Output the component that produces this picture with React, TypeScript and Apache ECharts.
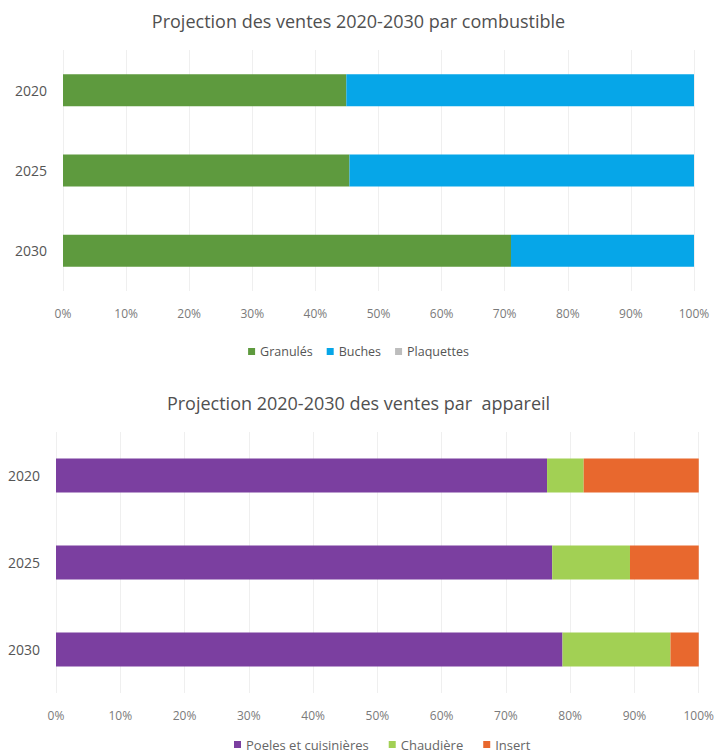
import React, { useEffect, useRef } from "react";
import * as echarts from "echarts";

const years = ["2020", "2025", "2030"];
const xTicks = ["0%", "10%", "20%", "30%", "40%", "50%", "60%", "70%", "80%", "90%", "100%"];

const fuelTitle = "Projection des ventes 2020-2030 par combustible";
const granules = [44.9, 45.4, 71.0];
const buches = [55.1, 54.6, 29.0];
const plaquettes = [0, 0, 0];

const deviceTitle = "Projection 2020-2030 des ventes par  appareil";
const poeles = [76.4, 77.2, 78.8];
const chaudiere = [5.7, 12.1, 16.8];
const insert = [17.9, 10.7, 4.4];

const FONT = "Open Sans";

export default function App() {
  const ref = useRef<HTMLDivElement>(null);
  useEffect(() => {
    document.body.style.margin = "0";
    const chart = echarts.init(ref.current!, null, { renderer: "svg" });
    const valueAxis = (gridIndex: number) => ({
      type: "value",
      gridIndex,
      min: 0,
      max: 100,
      interval: 10,
      axisLine: { show: false },
      axisTick: { show: false },
      splitLine: { show: true, lineStyle: { color: "#efefef", width: 1 } },
      axisLabel: {
        margin: 16,
        color: "#7a7a7a",
        fontFamily: FONT,
        fontSize: 12,
        formatter: (v: number) => xTicks[Math.round(v / 10)],
      },
    });
    const catAxis = (gridIndex: number) => ({
      type: "category",
      gridIndex,
      data: years,
      inverse: true,
      axisLine: { show: false },
      axisTick: { show: false },
      axisLabel: { margin: 16, color: "#555", fontFamily: FONT, fontSize: 14 },
    });
    chart.setOption({
      animation: false,
      backgroundColor: "#fff",
      title: [
        {
          text: fuelTitle,
          left: "center",
          top: 7,
          textStyle: { fontFamily: FONT, fontSize: 18, fontWeight: "normal", color: "#505050" },
        },
        {
          text: deviceTitle,
          left: "center",
          top: 389,
          textStyle: { fontFamily: FONT, fontSize: 18, fontWeight: "normal", color: "#505050" },
        },
      ],
      legend: [
        {
          data: ["Granulés", "Buches", "Plaquettes"],
          top: 340,
          left: "center",
          itemWidth: 7,
          itemHeight: 7,
          itemGap: 14,
          icon: "rect",
          textStyle: { fontFamily: FONT, fontSize: 12.5, color: "#555" },
        },
        {
          data: ["Poeles et cuisinières", "Chaudière", "Insert"],
          top: 733,
          left: 229,
          itemWidth: 7,
          itemHeight: 7,
          itemGap: 20,
          icon: "rect",
          textStyle: { fontFamily: FONT, fontSize: 13, color: "#666" },
        },
      ],
      grid: [
        { left: 63, right: 23, top: 50, height: 241 },
        { left: 56, right: 17, top: 432, height: 261 },
      ],
      xAxis: [valueAxis(0), valueAxis(1)],
      yAxis: [catAxis(0), catAxis(1)],
      series: [
        { name: "Granulés", type: "bar", stack: "a", xAxisIndex: 0, yAxisIndex: 0, barWidth: 32, data: granules, itemStyle: { color: "#5e9a3e" } },
        { name: "Buches", type: "bar", stack: "a", xAxisIndex: 0, yAxisIndex: 0, barWidth: 32, data: buches, itemStyle: { color: "#06a6e8" } },
        { name: "Plaquettes", type: "bar", stack: "a", xAxisIndex: 0, yAxisIndex: 0, barWidth: 32, data: plaquettes, itemStyle: { color: "#bdbdbd" } },
        { name: "Poeles et cuisinières", type: "bar", stack: "b", xAxisIndex: 1, yAxisIndex: 1, barWidth: 34, data: poeles, itemStyle: { color: "#7b3fa0" } },
        { name: "Chaudière", type: "bar", stack: "b", xAxisIndex: 1, yAxisIndex: 1, barWidth: 34, data: chaudiere, itemStyle: { color: "#a2d054" } },
        { name: "Insert", type: "bar", stack: "b", xAxisIndex: 1, yAxisIndex: 1, barWidth: 34, data: insert, itemStyle: { color: "#e8682e" } },
      ],
    });
    return () => chart.dispose();
  }, []);
  return <div ref={ref} style={{ width: 717, height: 755 }} />;
}
